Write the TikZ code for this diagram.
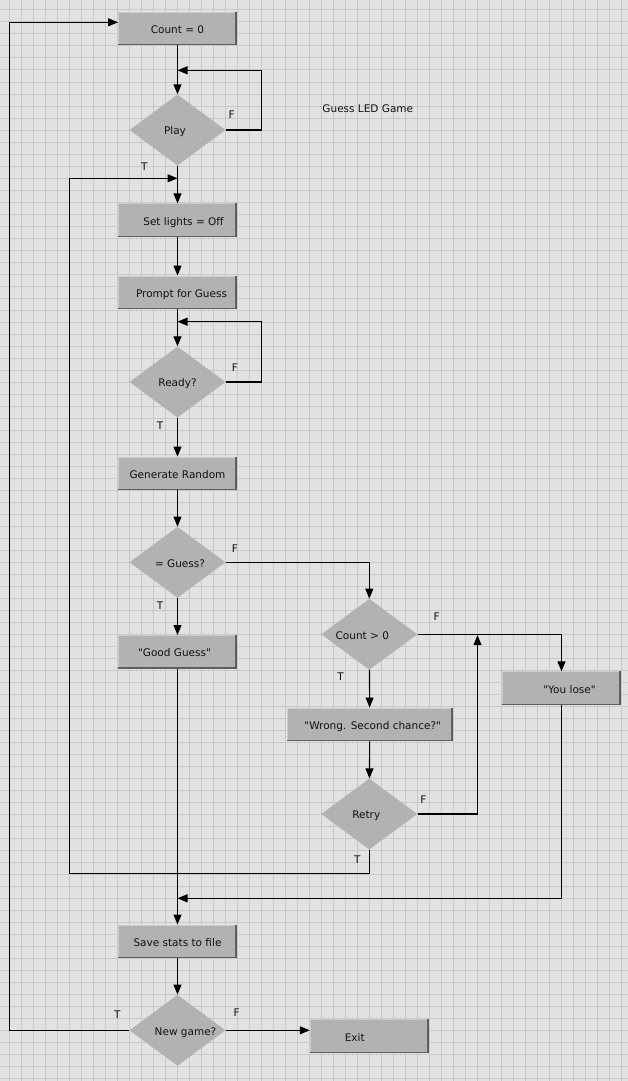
\documentclass[tikz,border=0pt]{standalone}
\usepackage{fontspec}
\setmainfont{DejaVu Sans}
\usetikzlibrary{shapes.geometric,arrows.meta,calc}
\definecolor{bg}{HTML}{E2E2E2}
\definecolor{gridc}{HTML}{C8C8C8}
\definecolor{boxc}{HTML}{B2B2B2}
\definecolor{shadc}{HTML}{5E5E5E}
\definecolor{hlc}{HTML}{CDCDCD}
\definecolor{txtc}{HTML}{111111}
\newcommand\txtoff[2]{\makebox[0pt][c]{\hspace*{#1}#2}}
\newcommand\qq{\textquotedbl}
\tikzset{
  box/.style={rectangle, fill=boxc, minimum width=118.5pt, minimum height=33.5pt, inner sep=0pt, text=txtc, text height=9.5pt, text depth=0pt, font=\fontsize{10.5}{12}\selectfont},
  dia/.style={diamond, fill=boxc, minimum width=96pt, minimum height=71pt, inner sep=0pt, aspect=1.35, text=txtc, text height=9.5pt, text depth=0pt, font=\fontsize{10.5}{12}\selectfont},
  lbl/.style={inner sep=0pt, text=txtc, font=\fontsize{10.5}{12}\selectfont},
  ln/.style={draw=black, line width=1.1pt},
  arr/.style={-{Triangle[length=10pt,width=8pt]}},
}
\begin{document}
\begin{tikzpicture}[x=1pt,y=-1pt]
\useasboundingbox (0,0) rectangle (628,1081);
\fill[bg] (0,0) rectangle (628,1081);
\foreach \k in {0,...,51} {\draw[gridc, line width=1pt] ({9.3+12*\k},0) -- ({9.3+12*\k},1081);}
\foreach \k in {0,...,89} {\draw[gridc, line width=1pt] (0,{10+12*\k}) -- (628,{10+12*\k});}

% nodes
\node[box] (count) at (177.5,28.5) {Count = 0};
\node[dia] (play) at (177.5,130) {\txtoff{-5pt}{Play}};
\node[box] (setl) at (177.5,220.3) {\txtoff{12pt}{Set lights = Off}};
\node[box] (prompt) at (177.5,292.5) {\txtoff{8pt}{Prompt for Guess}};
\node[dia] (ready) at (177.5,382) {Ready?};
\node[box] (gen) at (177.5,473.5) {Generate Random};
\node[dia] (eqg) at (177.5,562.3) {\txtoff{5pt}{= Guess?}};
\node[box] (good) at (177.5,652) {\txtoff{-6pt}{\qq Good Guess\qq}};
\node[dia] (cnt) at (369.3,634.3) {\txtoff{-14pt}{Count > 0}};
\node[box] (lose) at (561.5,688.3) {\txtoff{16pt}{\qq You lose\qq}};
\node[box, minimum width=166pt] (wrong) at (369.7,724.5) {\txtoff{6pt}{\qq Wrong. Second chance?\qq}};
\node[dia] (retry) at (369.3,814) {\txtoff{-6pt}{Retry}};
\node[box] (save) at (177.5,941.5) {Save stats to file};
\node[dia] (newg) at (177.5,1030.3) {\txtoff{16pt}{New game?}};
\node[box] (exit) at (369.2,1036.3) {\txtoff{-29pt}{Exit}};
\node[lbl] (title) at (367.8,109) {Guess LED Game};

% box edges (shadow)
\foreach \n in {count,setl,prompt,gen,good,lose,wrong,save,exit} {
  \draw[hlc, line width=0.8pt] ([xshift=0.4pt,yshift=0.4pt]\n.south west) -- ([xshift=0.4pt,yshift=-0.4pt]\n.north west) -- ([yshift=-0.4pt]\n.north east);
  \draw[shadc, line width=1.6pt] ([xshift=-0.8pt]\n.north east) -- ([xshift=-0.8pt,yshift=0.8pt]\n.south east) -- ([yshift=0.8pt]\n.south west);
}

% labels
\node[lbl] (pF) at (231.7,115) {F};
\node[lbl] (pT) at (144.3,166.7) {T};
\node[lbl] (rF) at (235,368) {F};
\node[lbl] (rT) at (160,426) {T};
\node[lbl] (eF) at (235,548.3) {F};
\node[lbl] (eT) at (160,606) {T};
\node[lbl] (cF) at (436.7,616.7) {F};
\node[lbl] (cT) at (340.7,676.7) {T};
\node[lbl] (tF) at (423.3,800) {F};
\node[lbl] (tT) at (357.3,860) {T};
\node[lbl] (nT) at (117.3,1014.3) {T};
\node[lbl] (nF) at (236.7,1012.3) {F};

% coordinates
\coordinate (pl) at (261.5,70.3);
\coordinate (pj) at (177.5,70.3);
\coordinate (rl) at (261.5,321.7);
\coordinate (rj) at (177.5,321.7);
\coordinate (tb) at (69.3,873.7);
\coordinate (tt) at (69.3,178.3);
\coordinate (tj) at (177.5,178.3);
\coordinate (yj) at (177.5,898.3);
\coordinate (nl) at (9.3,22.3);
\coordinate (rf) at (477.5,635.2);

% connectors
\draw[ln,arr] (count) -- (play);
\draw[ln,arr] (play.east) -| (pl) -- (pj);
\draw[ln,arr] (play) -- (setl);
\draw[ln,arr] (retry.south) |- (tb) -- (tt) -- (tj);
\draw[ln,arr] (setl) -- (prompt);
\draw[ln,arr] (prompt) -- (ready);
\draw[ln,arr] (ready.east) -| (rl) -- (rj);
\draw[ln,arr] (ready) -- (gen);
\draw[ln,arr] (gen) -- (eqg);
\draw[ln,arr] (eqg) -- (good);
\draw[ln,arr] (eqg.east) -| (cnt.north);
\draw[ln,arr] (cnt.east) -| (lose.north);
\draw[ln,arr] (cnt) -- (wrong);
\draw[ln,arr] (wrong) -- (retry);
\draw[ln,arr] (retry.east) -| (rf);
\draw[ln,arr] (lose.south) |- (yj);
\draw[ln,arr] (good) -- (save);
\draw[ln,arr] (save) -- (newg);
\draw[ln,arr] (newg.west) -| (nl) -- (nl -| count.west);
\draw[ln,arr] (newg.east) -- (newg.east -| exit.west);
\end{tikzpicture}
\end{document}
